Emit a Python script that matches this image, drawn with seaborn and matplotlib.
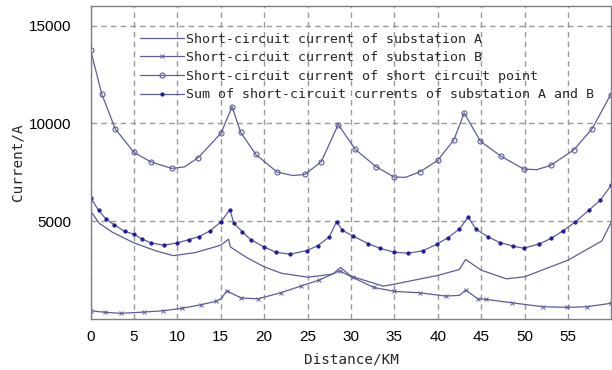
import numpy as np
import pandas as pd
import matplotlib
matplotlib.use("Agg")
import matplotlib.pyplot as plt
import seaborn as sns

# series
dist_a = [0, 1, 2.5, 5, 7.5, 9.5, 12, 15, 15.9, 16.1, 18, 20, 22, 25, 27.9, 28.8,
          30, 33.7, 35, 40, 42.5, 43.2, 45, 47.9, 50, 55, 58.9, 60]
curr_a = [5530, 4900, 4450, 3900, 3500, 3250, 3400, 3783, 4089, 3697, 3150, 2680,
          2350, 2150, 2307, 2648, 2205, 1695, 1797, 2240, 2546, 3055, 2510, 2067,
          2170, 3019, 4002, 4970]

dist_b = [0, 1.7, 3.5, 6.2, 8.4, 10.5, 12.7, 14.4, 15.05, 15.7, 17.35, 19.3, 21.9,
          24.2, 26.3, 28.7, 30.2, 32.6, 35.0, 37.9, 40.9, 42.5, 43.2, 44.6, 45.6,
          48.5, 52.1, 54.9, 57.2, 59.9]
curr_b = [438, 356, 305, 372, 438, 560, 743, 916, 1050, 1456, 1085, 1050, 1355,
          1695, 2000, 2475, 2140, 1630, 1425, 1355, 1186, 1222, 1492, 1050, 1018,
          845, 642, 611, 642, 815]
# points on the B curve that carry no marker
b_plain = [8, 21]

dist_p = [0, 1.3, 2.84, 5.0, 7.0, 9.37, 10.8, 12.4, 15.05, 16.3, 17.28, 19.04,
          21.5, 23.3, 24.7, 26.57, 28.53, 30.5, 32.9, 34.98, 36.3, 37.97, 39.98,
          41.86, 43.04, 44.9, 47.27, 49.9, 51.4, 53.0, 55.68, 57.8, 59.9]
curr_p = [13747, 11487, 9725, 8518, 8025, 7704, 7780, 8248, 9521, 10860, 9552, 8416,
          7515, 7340, 7398, 8045, 9944, 8671, 7790, 7261, 7250, 7535, 8111, 9165,
          10540, 9094, 8330, 7668, 7640, 7856, 8656, 9740, 11456]
# points on the short circuit point curve that carry no marker
p_plain = [6, 13, 20, 28]

dist_s = [0, 0.92, 1.76, 2.68, 3.91, 4.99, 5.91, 6.98, 8.44, 9.98, 11.36, 12.51,
          13.74, 14.98, 16.05, 16.5, 17.5, 18.43, 19.97, 21.35, 22.96, 24.95, 26.2,
          27.5, 28.34, 29.0, 30.2, 31.95, 33.3, 35.0, 36.6, 38.25, 39.9, 41.2, 42.5,
          43.5, 44.4, 45.8, 47.15, 48.7, 49.9, 51.7, 53.1, 54.4, 55.8, 57.4, 58.7,
          59.97]
curr_s = [6212, 5565, 5122, 4837, 4496, 4343, 4104, 3900, 3783, 3900, 4073, 4226,
          4511, 4954, 5601, 4918, 4460, 4073, 3697, 3426, 3325, 3510, 3768, 4206,
          4990, 4547, 4257, 3870, 3630, 3426, 3375, 3493, 3834, 4175, 4613, 5224,
          4598, 4206, 3920, 3732, 3630, 3850, 4140, 4511, 4954, 5565, 6074, 6838]

labels = ["Short-circuit current of substation A",
          "Short-circuit current of substation B",
          "Short-circuit current of short circuit point",
          "Sum of short-circuit currents of substation A and B"]

sns.set_style("white")
mono = "DejaVu Sans Mono"
line_col = "#5c5c9c"
dot_col = "#1c1ca0"

fig = plt.figure(figsize=(6.12, 3.70), dpi=100)
ax = fig.add_axes([0.148, 0.137, 0.851, 0.847])

sns.lineplot(x=dist_a, y=curr_a, ax=ax, color=line_col, lw=0.9, label=labels[0])
sns.lineplot(x=dist_b, y=curr_b, ax=ax, color=line_col, lw=0.9, marker="x",
             markersize=3.2, markeredgewidth=0.7, markeredgecolor=line_col,
             markevery=[i for i in range(len(dist_b)) if i not in b_plain],
             label=labels[1])
sns.lineplot(x=dist_p, y=curr_p, ax=ax, color=line_col, lw=0.9, marker="o",
             markersize=3.6, markerfacecolor="none", markeredgewidth=0.8,
             markeredgecolor=line_col,
             markevery=[i for i in range(len(dist_p)) if i not in p_plain],
             label=labels[2])
sns.lineplot(x=dist_s, y=curr_s, ax=ax, color=line_col, lw=0.9, marker="o",
             markersize=2.3, markerfacecolor=dot_col, markeredgecolor=dot_col,
             label=labels[3])

ax.set_xlim(0, 60)
ax.set_ylim(0, 16000)
ax.set_xticks(np.arange(0, 60, 5))
ax.set_yticks([5000, 10000, 15000])
ax.grid(True, color="#9a9a9a", linestyle=(0, (4, 3)), lw=1)
for s in ax.spines.values():
    s.set_color("#808080")
    s.set_linewidth(1)
ax.tick_params(length=0, labelsize=11, colors="black")
ax.tick_params(axis="y", pad=14)
ax.tick_params(axis="x", pad=8)
for t in ax.get_xticklabels() + ax.get_yticklabels():
    t.set_family("Liberation Sans")

ax.set_xlabel("Distance/KM", family=mono, fontsize=10.3, labelpad=6)
ax.set_ylabel("Current/A", family=mono, fontsize=10.3, labelpad=3)

ax.legend(loc="upper left", bbox_to_anchor=(0.085, 0.932), frameon=False,
          prop={"family": mono, "size": 9.5}, handlelength=3.3,
          handletextpad=0.2, labelspacing=0.42, borderaxespad=0)

fig.savefig("out.png", dpi=100)
